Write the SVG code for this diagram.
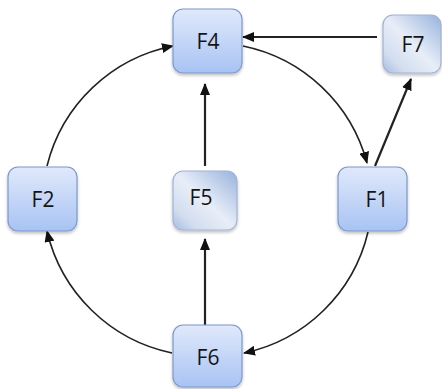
<svg xmlns="http://www.w3.org/2000/svg" width="442" height="389" viewBox="0 0 442 389">
  <defs>
    <linearGradient id="gBlue" x1="0" y1="0" x2="0" y2="1">
      <stop offset="0" stop-color="#e0e9fb"/>
      <stop offset="1" stop-color="#a8c3f3"/>
    </linearGradient>
    <linearGradient id="gSteel" x1="1" y1="0" x2="0" y2="1">
      <stop offset="0" stop-color="#98b2dc"/>
      <stop offset="0.5" stop-color="#e8eef8"/>
      <stop offset="0.8" stop-color="#d2ddef"/>
      <stop offset="1" stop-color="#a6bbe0"/>
    </linearGradient>
    <filter id="shadow" x="-20%" y="-20%" width="140%" height="140%">
      <feDropShadow dx="0" dy="2" stdDeviation="1.5" flood-color="#000" flood-opacity="0.25"/>
    </filter>
    <marker id="arrow" markerWidth="12" markerHeight="10" refX="11" refY="5" orient="auto" markerUnits="userSpaceOnUse">
      <path d="M0,0 L12,5 L0,10 Z" fill="#111"/>
    </marker>
    <style>
      .node rect { stroke: #7b98cc; stroke-width: 1.2; filter: url(#shadow); }
      .blue rect { fill: url(#gBlue); }
      .steel rect { fill: url(#gSteel); stroke: #9fb3d6; }
      .node text { font-family: "Open Sans", "Liberation Sans", sans-serif; font-size: 21px; fill: #151515; text-anchor: middle; dominant-baseline: central; }
      .edge { fill: none; stroke: #222; stroke-width: 1.6; marker-end: url(#arrow); }
      .straight { stroke-width: 2.2; }
    </style>
  </defs>

  <g id="connectors">
    <!-- circular loop: F2 -> F4 -> F1 -> F6 -> F2 -->
    <path class="edge" d="M47,166 A162,162 0 0 1 173,46"/>
    <path class="edge" d="M243,46 A162,162 0 0 1 367,163"/>
    <path class="edge" d="M368,232 A162,162 0 0 1 244,353"/>
    <path class="edge" d="M172,353 A162,162 0 0 1 47,231"/>
    <!-- straight links -->
    <path class="edge straight" d="M205,166 L205,84"/>
    <path class="edge straight" d="M205,325 L205,239"/>
    <path class="edge straight" d="M377,37 L243,37"/>
    <path class="edge straight" d="M375,166 L411,79"/>
  </g>

  <g id="F4" class="node blue">
    <rect x="173" y="9" width="69" height="64" rx="10"/>
    <text x="208" y="41">F4</text>
  </g>
  <g id="F7" class="node steel">
    <rect x="383" y="15" width="58" height="58" rx="10"/>
    <text x="413" y="44">F7</text>
  </g>
  <g id="F2" class="node blue">
    <rect x="8" y="167" width="69" height="64" rx="10"/>
    <text x="43" y="199">F2</text>
  </g>
  <g id="F5" class="node steel">
    <rect x="173" y="171" width="64" height="59" rx="10"/>
    <text x="201" y="197">F5</text>
  </g>
  <g id="F1" class="node blue">
    <rect x="338" y="167" width="69" height="64" rx="10"/>
    <text x="377" y="199">F1</text>
  </g>
  <g id="F6" class="node blue">
    <rect x="173" y="325" width="69" height="62" rx="10"/>
    <text x="208" y="357">F6</text>
  </g>
</svg>
